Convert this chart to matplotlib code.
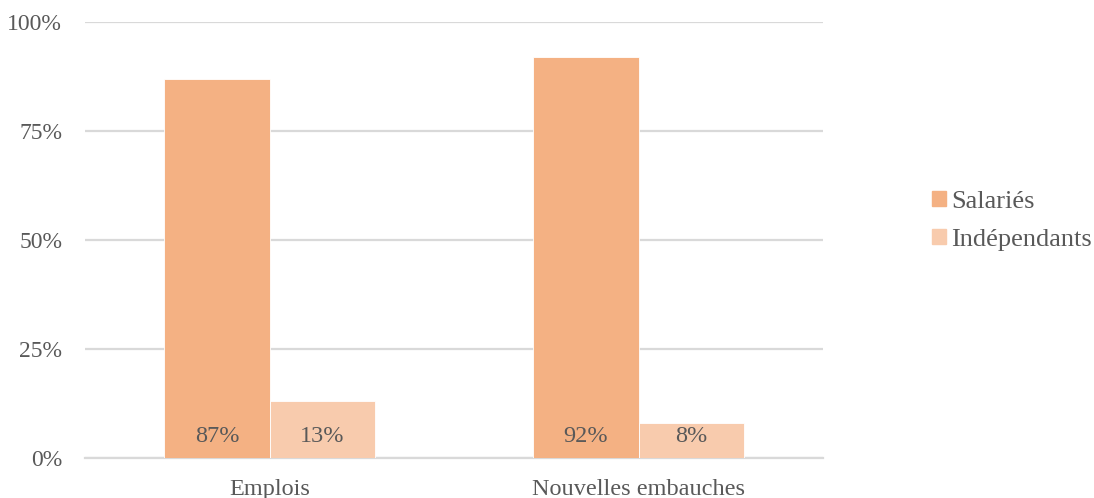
import matplotlib.pyplot as plt
import numpy as np
from matplotlib.patches import Patch

categories = ['Emplois', 'Nouvelles embauches']
salaries = [87, 92]
independants = [13, 8]
series_names = ['Salariés', 'Indépendants']
y_ticks = [0, 25, 50, 75, 100]

c_sal = '#F4B183'
c_ind = '#F8CBAD'
txt = '#595959'

plt.rcParams['font.family'] = ['Liberation Serif', 'DejaVu Serif']

fig = plt.figure(figsize=(10.94, 4.98), dpi=100)
ax = fig.add_axes([85 / 1094, 40 / 498, 738 / 1094, 436 / 498])

x = np.arange(len(categories))
w = 0.285
b1 = ax.bar(x - w / 2, salaries, w, color=c_sal, edgecolor='white', linewidth=0.6, zorder=3)
b2 = ax.bar(x + w / 2, independants, w, color=c_ind, edgecolor='white', linewidth=0.6, zorder=3)

# value labels sit near the base of each bar
for bars, vals in ((b1, salaries), (b2, independants)):
    for bar, v in zip(bars, vals):
        ax.text(bar.get_x() + bar.get_width() / 2, 5.0, f'{v}%',
                ha='center', va='center', fontsize=17.5, color=txt, zorder=4)

ax.set_xlim(-0.5, 1.5)
ax.set_ylim(0, 100)
ax.set_yticks(y_ticks)
ax.set_yticklabels([f'{t}%' for t in y_ticks])
ax.set_xticks(x)
ax.set_xticklabels(categories)
ax.yaxis.grid(True, color='#D9D9D9', linewidth=1.6, zorder=0)
ax.tick_params(axis='both', length=0, labelsize=17, labelcolor=txt)
ax.tick_params(axis='x', labelsize=17.5, pad=15)
ax.tick_params(axis='y', pad=16.5)
for s in ax.spines.values():
    s.set_visible(False)
ax.axhline(0, color='#D9D9D9', linewidth=1.6, zorder=2, clip_on=False)

handles = [Patch(color=c_sal), Patch(color=c_ind)]
fig.legend(handles, series_names, loc='center left', bbox_to_anchor=(914 / 1094, 1 - 221 / 498),
           frameon=False, fontsize=19, labelcolor=txt, handlelength=0.5, handleheight=0.5,
           handletextpad=0.2, labelspacing=0.62, borderpad=0.2)

fig.savefig('out.png', dpi=100)
